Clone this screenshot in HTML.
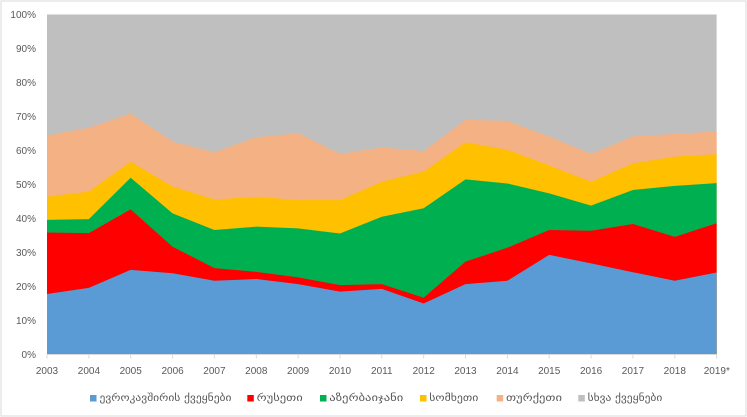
<!DOCTYPE html>
<html>
<head>
<meta charset="utf-8">
<style>
html,body{margin:0;padding:0;background:#fff;}
svg{display:block;}
.ax{font-family:"Liberation Sans",sans-serif;font-size:10px;fill:#595959;}
.lg{font-family:"DejaVu Sans","Liberation Sans",sans-serif;font-size:10px;fill:#595959;}
</style>
</head>
<body>
<svg width="747" height="417" viewBox="0 0 747 417" xmlns="http://www.w3.org/2000/svg">
<rect x="0" y="0" width="747" height="417" fill="#fff"/>
<rect x="1" y="1" width="745" height="415" fill="none" stroke="#d9d9d9" stroke-width="1"/>

<g transform="translate(47,354.5) scale(41.85,-3.4)">
  <rect x="0" y="0" width="16" height="100" fill="#BFBFBF"/>
  <polygon fill="#F4B183" points="0,0 0,64.4 1,66.7 2,70.9 3,62.6 4,59.5 5,63.9 6,65.1 7,59.0 8,60.9 9,59.8 10,69.0 11,68.7 12,64.1 13,59.0 14,64.1 15,64.9 16,65.6 16,0"/>
  <polygon fill="#FFC000" points="0,0 0,46.4 1,47.9 2,56.7 3,49.4 4,45.6 5,46.4 6,45.4 7,45.4 8,50.8 9,53.8 10,62.4 11,60.2 12,55.6 13,50.8 14,56.2 15,58.2 16,58.9 16,0"/>
  <polygon fill="#00B050" points="0,0 0,39.6 1,39.8 2,52.0 3,41.5 4,36.6 5,37.6 6,37.1 7,35.6 8,40.5 9,43.0 10,51.5 11,50.3 12,47.4 13,43.8 14,48.4 15,49.6 16,50.4 16,0"/>
  <polygon fill="#FF0000" points="0,0 0,35.9 1,35.7 2,42.7 3,31.7 4,25.4 5,24.3 6,22.7 7,20.4 8,20.7 9,16.7 10,27.3 11,31.4 12,36.6 13,36.4 14,38.4 15,34.6 16,38.6 16,0"/>
  <polygon fill="#5B9BD5" points="0,0 0,17.8 1,19.6 2,24.9 3,23.9 4,21.7 5,22.2 6,20.7 7,18.5 8,19.3 9,15.0 10,20.7 11,21.7 12,29.3 13,26.8 14,24.2 15,21.7 16,24.1 16,0"/>
</g>

<!-- x axis -->
<line x1="47" y1="354.5" x2="716.6" y2="354.5" stroke="#d9d9d9" stroke-width="1"/>
<g stroke="#d9d9d9" stroke-width="1">
  <line x1="47" y1="354.5" x2="47" y2="358.5"/>
  <line x1="88.9" y1="354.5" x2="88.9" y2="358.5"/>
  <line x1="130.7" y1="354.5" x2="130.7" y2="358.5"/>
  <line x1="172.6" y1="354.5" x2="172.6" y2="358.5"/>
  <line x1="214.4" y1="354.5" x2="214.4" y2="358.5"/>
  <line x1="256.3" y1="354.5" x2="256.3" y2="358.5"/>
  <line x1="298.1" y1="354.5" x2="298.1" y2="358.5"/>
  <line x1="340" y1="354.5" x2="340" y2="358.5"/>
  <line x1="381.8" y1="354.5" x2="381.8" y2="358.5"/>
  <line x1="423.7" y1="354.5" x2="423.7" y2="358.5"/>
  <line x1="465.5" y1="354.5" x2="465.5" y2="358.5"/>
  <line x1="507.4" y1="354.5" x2="507.4" y2="358.5"/>
  <line x1="549.2" y1="354.5" x2="549.2" y2="358.5"/>
  <line x1="591.1" y1="354.5" x2="591.1" y2="358.5"/>
  <line x1="632.9" y1="354.5" x2="632.9" y2="358.5"/>
  <line x1="674.8" y1="354.5" x2="674.8" y2="358.5"/>
  <line x1="716.6" y1="354.5" x2="716.6" y2="358.5"/>
</g>

<g class="ax" text-anchor="middle">
  <text x="47" y="374">2003</text>
  <text x="88.9" y="374">2004</text>
  <text x="130.7" y="374">2005</text>
  <text x="172.6" y="374">2006</text>
  <text x="214.4" y="374">2007</text>
  <text x="256.3" y="374">2008</text>
  <text x="298.1" y="374">2009</text>
  <text x="340" y="374">2010</text>
  <text x="381.8" y="374">2011</text>
  <text x="423.7" y="374">2012</text>
  <text x="465.5" y="374">2013</text>
  <text x="507.4" y="374">2014</text>
  <text x="549.2" y="374">2015</text>
  <text x="591.1" y="374">2016</text>
  <text x="632.9" y="374">2017</text>
  <text x="674.8" y="374">2018</text>
  <text x="716.8" y="374">2019*</text>
</g>

<g class="ax" text-anchor="end">
  <text x="36" y="358">0%</text>
  <text x="36" y="324">10%</text>
  <text x="36" y="290">20%</text>
  <text x="36" y="256">30%</text>
  <text x="36" y="222">40%</text>
  <text x="36" y="188">50%</text>
  <text x="36" y="154">60%</text>
  <text x="36" y="120">70%</text>
  <text x="36" y="86">80%</text>
  <text x="36" y="52">90%</text>
  <text x="36" y="18">100%</text>
</g>

<!-- legend -->
<rect x="90" y="395" width="6.5" height="6.5" fill="#5B9BD5"/>
<text class="lg" x="99.5" y="401" textLength="132" lengthAdjust="spacingAndGlyphs">ევროკავშირის ქვეყნები</text>
<rect x="247.3" y="395" width="6.5" height="6.5" fill="#FF0000"/>
<text class="lg" x="256.7" y="401" textLength="46" lengthAdjust="spacingAndGlyphs">რუსეთი</text>
<rect x="320" y="395" width="6.5" height="6.5" fill="#00B050"/>
<text class="lg" x="329.3" y="401" textLength="74" lengthAdjust="spacingAndGlyphs">აზერბაიჯანი</text>
<rect x="420" y="395" width="6.5" height="6.5" fill="#FFC000"/>
<text class="lg" x="429.3" y="401" textLength="49" lengthAdjust="spacingAndGlyphs">სომხეთი</text>
<rect x="496.7" y="395" width="6.5" height="6.5" fill="#F4B183"/>
<text class="lg" x="506" y="401" textLength="56" lengthAdjust="spacingAndGlyphs">თურქეთი</text>
<rect x="578.3" y="395" width="6.5" height="6.5" fill="#BFBFBF"/>
<text class="lg" x="587.7" y="401" textLength="74.6" lengthAdjust="spacingAndGlyphs">სხვა ქვეყნები</text>
</svg>
</body>
</html>
